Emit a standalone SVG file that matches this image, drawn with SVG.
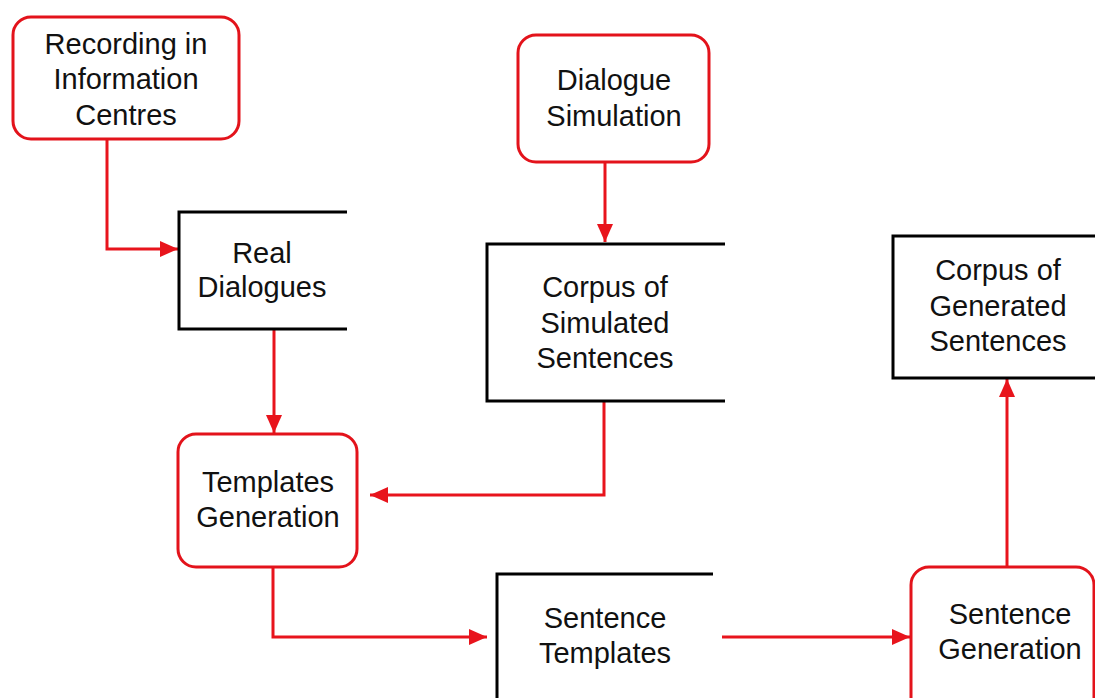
<svg xmlns="http://www.w3.org/2000/svg" width="1095" height="698" viewBox="0 0 1095 698">
<defs>
<style>
.proc{fill:#fff;stroke:#e3131b;stroke-width:3}
.store{fill:none;stroke:#000;stroke-width:3}
.lbl{font-family:"Liberation Sans",Arial,sans-serif;font-size:29px;fill:#111;text-anchor:middle}
.conn{fill:none;stroke:#e8141c;stroke-width:3}
</style>
<marker id="arr" viewBox="0 0 18 16" refX="18" refY="8" markerWidth="18" markerHeight="16" markerUnits="userSpaceOnUse" orient="auto">
<polygon points="0,0 18,8 0,16" fill="#e8141c"/>
</marker>
</defs>
<rect width="1095" height="698" fill="#fff"/>
<g id="connectors">
<polyline class="conn" points="107,139 107,249 178,249" marker-end="url(#arr)"/>
<polyline class="conn" points="605,162 605,242" marker-end="url(#arr)"/>
<polyline class="conn" points="274,330 274,433" marker-end="url(#arr)"/>
<polyline class="conn" points="604,401 604,495 370,495" marker-end="url(#arr)"/>
<polyline class="conn" points="273,567 273,637 487,637" marker-end="url(#arr)"/>
<polyline class="conn" points="722,637 910,637" marker-end="url(#arr)"/>
<polyline class="conn" points="1007,567 1007,379" marker-end="url(#arr)"/>
</g>
<g id="recording">
<rect class="proc" x="13" y="17" width="226" height="122" rx="18"/>
<text class="lbl" x="126" y="54">Recording in</text>
<text class="lbl" x="126" y="89">Information</text>
<text class="lbl" x="126" y="125">Centres</text>
</g>
<g id="real-dialogues">
<path class="store" d="M347,212 H179 V329 H347"/>
<text class="lbl" x="262" y="263">Real</text>
<text class="lbl" x="262" y="297">Dialogues</text>
</g>
<g id="dialogue-simulation">
<rect class="proc" x="518" y="35" width="191" height="127" rx="18"/>
<text class="lbl" x="614" y="90">Dialogue</text>
<text class="lbl" x="614" y="126">Simulation</text>
</g>
<g id="corpus-simulated">
<path class="store" d="M725,244 H487 V401 H725"/>
<text class="lbl" x="605" y="297">Corpus of</text>
<text class="lbl" x="605" y="333">Simulated</text>
<text class="lbl" x="605" y="368">Sentences</text>
</g>
<g id="templates-generation">
<rect class="proc" x="178" y="434" width="179" height="133" rx="18"/>
<text class="lbl" x="268" y="492">Templates</text>
<text class="lbl" x="268" y="527">Generation</text>
</g>
<g id="sentence-templates">
<path class="store" d="M713,574 H497 V700"/>
<text class="lbl" x="605" y="628">Sentence</text>
<text class="lbl" x="605" y="663">Templates</text>
</g>
<g id="sentence-generation">
<rect class="proc" x="911" y="567" width="183" height="150" rx="18"/>
<text class="lbl" x="1010" y="624">Sentence</text>
<text class="lbl" x="1010" y="659">Generation</text>
</g>
<g id="corpus-generated">
<path class="store" d="M1096,236 H893 V378 H1096"/>
<text class="lbl" x="998" y="280">Corpus of</text>
<text class="lbl" x="998" y="316">Generated</text>
<text class="lbl" x="998" y="351">Sentences</text>
</g>
</svg>
